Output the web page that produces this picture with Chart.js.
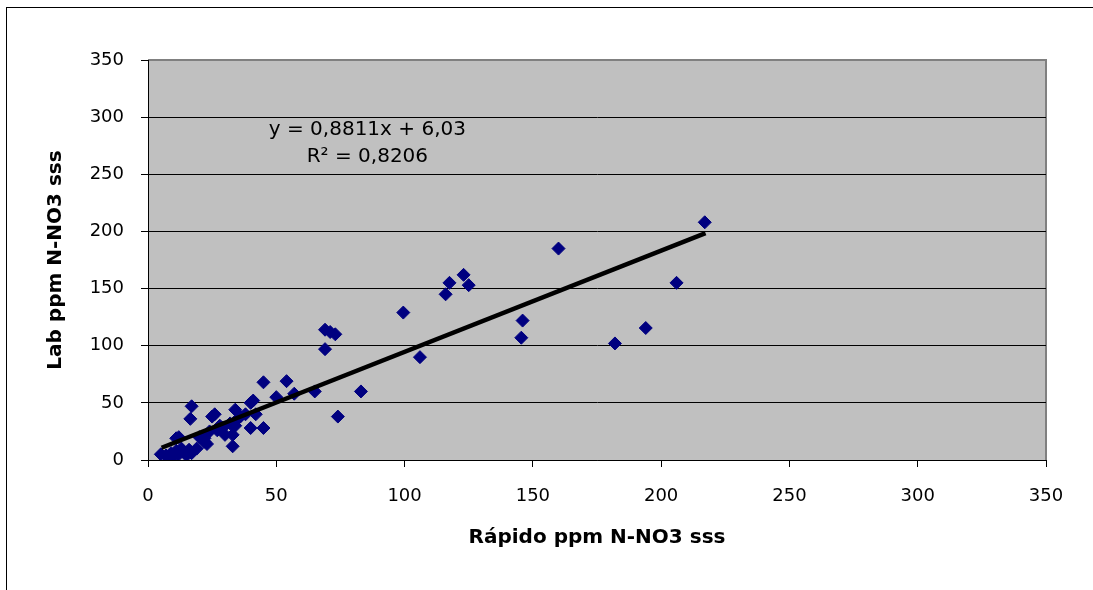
<!DOCTYPE html>
<html>
<head>
<meta charset="utf-8">
<script src="https://cdn.jsdelivr.net/npm/chart.js@4"></script>
<style>
  html, body { margin: 0; padding: 0; background: #fff; }
  #frame { position: absolute; left: 6px; top: 7px; width: 1087px; height: 583px;
           border-top: 1px solid #000; border-left: 1px solid #000; }
  #wrap { position: absolute; left: 0; top: 0; width: 1093px; height: 590px; }
</style>
</head>
<body>
<div id="frame"></div>
<div id="wrap"><canvas id="grafik" width="1093" height="590"></canvas></div>
<script>
// valores (Rapido vs Lab, ppm N-NO3)
const rapido = [5, 7, 8, 9, 10, 11, 12, 13, 14, 15, 16, 17, 19, 12, 11,
  17, 16.5, 20, 22, 23, 24, 22, 25, 26, 27, 28, 29, 30, 32, 33,
  33, 34, 34, 35, 36, 38, 40, 40, 41, 42, 45, 45, 50, 54, 57,
  65, 69, 69, 71, 73, 74, 83, 99.5, 106, 116, 117.5, 123, 125, 146, 145.5,
  160, 182, 194, 206, 217];
const lab = [5, 4, 2, 6, 3, 8, 5, 10, 7, 4, 9, 6, 10, 20, 19,
  47, 36, 20, 16, 14, 25, 19, 38, 40, 26, 30, 28, 22, 32, 12,
  22, 30, 44, 36, 38, 40, 28, 50, 52, 40, 28, 68, 55, 69, 58,
  60, 97, 114, 112, 110, 38, 60, 129, 90, 145, 155, 162, 153, 122, 107,
  185, 102, 115.5, 155, 208];

// extremos de la linea de tendencia (leidos)
const tendX = [5.3, 217.3];
const tendY = [10.7, 198.5];

const ecuacion = ["y = 0,8811x + 6,03", "R² = 0,8206"];
const ticksEje = [0, 50, 100, 150, 200, 250, 300, 350];

const puntos = rapido.map((x, i) => ({ x, y: lab[i] }));
const tendencia = tendX.map((x, i) => ({ x, y: tendY[i] }));

const fuente = "'DejaVu Sans', Arial, sans-serif";

const fondoArea = {
  id: "fondoArea",
  beforeDraw(chart) {
    const { ctx, chartArea: a } = chart;
    ctx.save();
    ctx.fillStyle = "#C0C0C0";
    ctx.fillRect(a.left, a.top, a.right - a.left, a.bottom - a.top);
    ctx.strokeStyle = "#808080";
    ctx.lineWidth = 2;
    ctx.beginPath();
    ctx.moveTo(a.left, a.top);
    ctx.lineTo(a.right, a.top);
    ctx.lineTo(a.right, a.bottom);
    ctx.stroke();
    ctx.restore();
  },
  afterDatasetsDraw(chart) {
    const { ctx, scales } = chart;
    ctx.save();
    ctx.fillStyle = "#000";
    ctx.font = "20px " + fuente;
    ctx.textAlign = "center";
    ctx.textBaseline = "middle";
    ctx.fillText(ecuacion[0], scales.x.getPixelForValue(85.5), scales.y.getPixelForValue(288.5));
    ctx.fillText(ecuacion[1], scales.x.getPixelForValue(85.5), scales.y.getPixelForValue(265.5));
    ctx.restore();
  }
};

new Chart(document.getElementById("grafik").getContext("2d"), {
  type: "scatter",
  data: {
    datasets: [
      {
        type: "line",
        data: tendencia,
        borderColor: "#000",
        borderWidth: 4.5,
        pointRadius: 0,
        fill: false
      },
      {
        data: puntos,
        pointStyle: "rectRot",
        pointRadius: 6.5,
        backgroundColor: "#000080",
        borderColor: "#000080",
        borderWidth: 1
      }
    ]
  },
  options: {
    responsive: false,
    animation: false,
    layout: { padding: { top: 60, right: 47, left: 0, bottom: 0 } },
    plugins: { legend: { display: false }, tooltip: { enabled: false } },
    scales: {
      x: {
        type: "linear",
        min: 0,
        max: 350,
        afterBuildTicks: s => { s.ticks = ticksEje.map(v => ({ value: v })); },
        afterFit: s => { s.height = 130; },
        ticks: { color: "#000", font: { family: fuente, size: 18 }, padding: 19 },
        grid: { drawOnChartArea: false, color: "#000", tickLength: 7 },
        border: { color: "#000", width: 1 },
        title: {
          display: true,
          text: "Rápido ppm N-NO3 sss",
          color: "#000",
          font: { family: fuente, size: 20, weight: "bold" },
          padding: { top: 0, bottom: 40 }
        }
      },
      y: {
        type: "linear",
        min: 0,
        max: 350,
        afterBuildTicks: s => { s.ticks = ticksEje.map(v => ({ value: v })); },
        afterFit: s => { s.width = 148; },
        ticks: { color: "#000", font: { family: fuente, size: 18 }, padding: 17 },
        grid: {
          color: c => (c.tick && c.tick.value === 350 ? "#808080" : "#000"),
          lineWidth: 1,
          tickColor: "#000",
          tickLength: 7
        },
        border: { color: "#000", width: 1 },
        title: {
          display: true,
          text: "Lab ppm N-NO3 sss",
          color: "#000",
          font: { family: fuente, size: 20, weight: "bold" },
          padding: { top: 44, bottom: 0 }
        }
      }
    }
  },
  plugins: [fondoArea]
});
</script>
</body>
</html>
